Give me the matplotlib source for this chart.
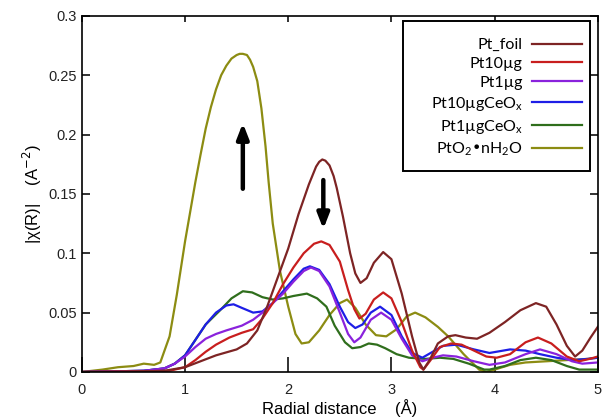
import matplotlib
matplotlib.use("Agg")
import matplotlib.pyplot as plt
from matplotlib.patches import Rectangle

# |chi(R)| vs radial distance
foil_r = [0, 0.5, 0.8, 1.0, 1.15, 1.3, 1.5, 1.6, 1.7, 1.8, 1.9, 2.0, 2.1, 2.2, 2.27, 2.3, 2.33,
          2.36, 2.4, 2.44, 2.47, 2.53, 2.6, 2.65, 2.7, 2.76, 2.83, 2.92, 3.0, 3.1, 3.2, 3.27,
          3.31, 3.37, 3.45, 3.55, 3.62, 3.72, 3.83, 3.95, 4.1, 4.25, 4.4, 4.5, 4.6, 4.7, 4.78,
          4.85, 4.93, 5.0]
foil_chi = [0, 0.0005, 0.001, 0.004, 0.009, 0.014, 0.019, 0.024, 0.035, 0.056, 0.08, 0.104,
            0.133, 0.158, 0.173, 0.177, 0.179, 0.178, 0.174, 0.165, 0.155, 0.131, 0.1, 0.083,
            0.075, 0.079, 0.092, 0.101, 0.095, 0.066, 0.03, 0.008, 0.002, 0.01, 0.024, 0.03,
            0.031, 0.029, 0.028, 0.033, 0.042, 0.052, 0.058, 0.055, 0.04, 0.022, 0.013, 0.018,
            0.029, 0.038]

pt10_r = [0, 0.6, 0.85, 1.0, 1.1, 1.2, 1.3, 1.43, 1.55, 1.66, 1.75, 1.85, 1.95, 2.05, 2.15, 2.25,
          2.32, 2.4, 2.5, 2.58, 2.64, 2.69, 2.75, 2.83, 2.92, 3.0, 3.1, 3.2, 3.28, 3.31, 3.38,
          3.47, 3.58, 3.68, 3.8, 3.92, 4.02, 4.15, 4.3, 4.42, 4.55, 4.7, 4.82, 4.92, 5.0]
pt10_chi = [0, 0.0005, 0.001, 0.004, 0.01, 0.017, 0.023, 0.029, 0.033, 0.036, 0.045, 0.058,
            0.074, 0.088, 0.1, 0.108, 0.11, 0.107, 0.093, 0.069, 0.053, 0.045, 0.049, 0.061,
            0.067, 0.062, 0.042, 0.018, 0.004, 0.002, 0.01, 0.021, 0.024, 0.023, 0.018, 0.013,
            0.012, 0.015, 0.025, 0.029, 0.024, 0.013, 0.009, 0.011, 0.013]

pt1_r = [0, 0.6, 0.8, 0.9, 1.0, 1.1, 1.2, 1.3, 1.4, 1.55, 1.66, 1.75, 1.85, 1.95, 2.05, 2.15,
         2.22, 2.3, 2.4, 2.5, 2.58, 2.64, 2.7, 2.8, 2.9, 3.0, 3.1, 3.2, 3.3, 3.4, 3.5, 3.63, 3.8,
         3.95, 4.1, 4.3, 4.44, 4.6, 4.75, 4.85, 5.0]
pt1_chi = [0, 0.001, 0.003, 0.007, 0.013, 0.021, 0.028, 0.032, 0.035, 0.039, 0.044, 0.05,
           0.058, 0.066, 0.076, 0.085, 0.088, 0.085, 0.072, 0.05, 0.032, 0.025, 0.029, 0.044,
           0.05, 0.044, 0.028, 0.014, 0.009, 0.012, 0.014, 0.013, 0.009, 0.006, 0.008, 0.015,
           0.019, 0.015, 0.009, 0.007, 0.008]

pt10ce_r = [0, 0.6, 0.8, 0.9, 1.0, 1.1, 1.2, 1.3, 1.4, 1.47, 1.55, 1.66, 1.75, 1.85, 1.95, 2.05,
            2.15, 2.21, 2.3, 2.4, 2.5, 2.58, 2.65, 2.72, 2.8, 2.89, 3.0, 3.1, 3.2, 3.3, 3.4, 3.5,
            3.63, 3.8, 3.95, 4.15, 4.3, 4.44, 4.6, 4.76, 4.9, 5.0]
pt10ce_chi = [0, 0.001, 0.003, 0.007, 0.014, 0.027, 0.04, 0.05, 0.056, 0.057, 0.054, 0.05,
              0.051, 0.058, 0.068, 0.078, 0.087, 0.089, 0.086, 0.074, 0.055, 0.042, 0.037, 0.04,
              0.05, 0.055, 0.048, 0.03, 0.016, 0.012, 0.017, 0.022, 0.023, 0.019, 0.016, 0.019,
              0.018, 0.015, 0.012, 0.01, 0.011, 0.012]

pt1ce_r = [0, 0.6, 0.8, 0.9, 1.0, 1.1, 1.2, 1.34, 1.45, 1.56, 1.65, 1.75, 1.85, 1.95, 2.05, 2.18,
           2.28, 2.37, 2.45, 2.55, 2.62, 2.7, 2.78, 2.86, 2.94, 3.05, 3.17, 3.33, 3.47, 3.6, 3.75,
           3.9, 3.95, 4.1, 4.25, 4.4, 4.55, 4.7, 4.82, 5.0]
pt1ce_chi = [0, 0.001, 0.003, 0.007, 0.014, 0.027, 0.04, 0.052, 0.062, 0.068, 0.067, 0.063,
             0.061, 0.062, 0.064, 0.066, 0.062, 0.055, 0.039, 0.025, 0.02, 0.021, 0.024, 0.023,
             0.02, 0.015, 0.012, 0.011, 0.012, 0.011, 0.007, 0.002, 0.002, 0.005, 0.01, 0.012,
             0.01, 0.005, 0.002, 0.002]

pto2_r = [0, 0.2, 0.35, 0.5, 0.6, 0.7, 0.76, 0.85, 0.92, 1.0, 1.05, 1.1, 1.15, 1.2, 1.25, 1.3,
          1.35, 1.4, 1.45, 1.5, 1.53, 1.56, 1.6, 1.63, 1.66, 1.7, 1.74, 1.78, 1.81, 1.85, 1.92,
          2.0, 2.07, 2.13, 2.2, 2.3, 2.4, 2.5, 2.57, 2.65, 2.75, 2.85, 2.95, 3.05, 3.15, 3.23,
          3.33, 3.45, 3.55, 3.7, 3.85, 3.92, 4.0, 4.15, 4.3, 4.5, 4.7, 4.9, 5.0]
pto2_chi = [0, 0.002, 0.004, 0.005, 0.007, 0.006, 0.008, 0.03, 0.065, 0.11, 0.135, 0.16, 0.183,
            0.205, 0.223, 0.238, 0.25, 0.258, 0.264, 0.267, 0.268, 0.268, 0.267, 0.263, 0.257,
            0.245, 0.222, 0.19, 0.16, 0.125, 0.085, 0.055, 0.032, 0.024, 0.025, 0.035, 0.048,
            0.058, 0.061, 0.054, 0.04, 0.031, 0.03, 0.036, 0.047, 0.05, 0.046, 0.038, 0.03,
            0.015, 0.002, 0.0, 0.002, 0.006, 0.008, 0.009, 0.01, 0.011, 0.012]

labels = ['Pt_foil', 'Pt10µg', 'Pt1µg', r'$\mathregular{Pt10µgCeO_x}$',
          r'$\mathregular{Pt1µgCeO_x}$', r'$\mathregular{PtO_2•nH_2O}$']
colors = ['#7d2424', '#c81e1e', '#8a22dc', '#1e1ee6', '#2f6e1c', '#8c8c12']

series = [(foil_r, foil_chi), (pt10_r, pt10_chi), (pt1_r, pt1_chi),
          (pt10ce_r, pt10ce_chi), (pt1ce_r, pt1ce_chi), (pto2_r, pto2_chi)]

plt.rcParams['font.family'] = ['Liberation Sans', 'DejaVu Sans']

fig = plt.figure(figsize=(6.02, 4.17), dpi=100)
ax = fig.add_axes([0.136, 0.108, 0.857, 0.854])

# draw the lines in reverse so Pt_foil ends up on top
for (r, chi), lab, c in list(zip(series, labels, colors))[::-1]:
    ax.plot(r, chi, color=c, lw=1.6, label=lab)

ax.set_xlim(0, 5)
ax.set_ylim(0, 0.3)
ax.set_xticks([0, 1, 2, 3, 4, 5])
ax.set_xticklabels(['0', '1', '2', '3', '4', '5'])
ax.set_yticks([0, 0.05, 0.1, 0.15, 0.2, 0.25, 0.3])
ax.set_yticklabels(['0', '0.05', '0.1', '0.15', '0.2', '0.25', '0.3'])
ax.tick_params(direction='in', top=True, right=True, length=6, width=1.3,
               labelsize=10.5, colors='#222222')
ax.tick_params(axis='x', pad=8, length=11)
for t in ax.xaxis.get_major_ticks():
    t.tick2line.set_markersize(4)
for sp in ax.spines.values():
    sp.set_linewidth(1.2)

ax.set_xlabel('Radial distance    (Å)', fontsize=12)
ax.set_ylabel('|χ(R)|    (A$^{-2}$)', fontsize=12, labelpad=3)
ax.xaxis.set_label_coords(0.5, -0.075)

# arrows marking the change in the first shell
ax.annotate('', xy=(1.56, 0.212), xytext=(1.56, 0.152),
            arrowprops=dict(arrowstyle='-|>,head_width=0.35,head_length=0.9',
                            color='black', lw=3.2))
ax.annotate('', xy=(2.34, 0.118), xytext=(2.34, 0.164),
            arrowprops=dict(arrowstyle='-|>,head_width=0.35,head_length=0.9',
                            color='black', lw=3.2))

# legend box is wider than its entries in the original, so draw the frame by hand
ax.add_patch(Rectangle((0.622, 0.565), 0.362, 0.421, transform=ax.transAxes,
                       facecolor='white', edgecolor='black', lw=1.4,
                       zorder=4.5, clip_on=False))
handles, labs = ax.get_legend_handles_labels()
leg = ax.legend(handles[::-1], labs[::-1], loc='upper right',
                bbox_to_anchor=(0.969, 0.938), frameon=False,
                markerfirst=False,
                prop={'family': ['Lato', 'DejaVu Sans'], 'size': 11.5},
                handlelength=3.1, labelspacing=0.3, borderpad=0,
                handletextpad=0.6, borderaxespad=0)

fig.savefig('out.png', dpi=100)
